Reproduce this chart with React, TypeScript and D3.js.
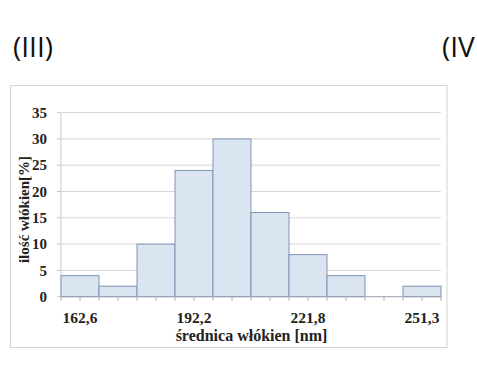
import * as d3 from "d3";

// histogram bins (fibre diameter, nm) and share of fibres (%)
const binLabels = ["162,6", "172,5", "182,3", "192,2", "202,1", "211,9", "221,8", "231,7", "241,5", "251,3"];
const shownLabels = ["162,6", "192,2", "221,8", "251,3"];
const percents = [4, 2, 10, 24, 30, 16, 8, 4, 0, 2];
const yTicks = [0, 5, 10, 15, 20, 25, 30, 35];

const W = 477;
const H = 378;
const margin = { top: 112.6, right: 36, bottom: 81.3, left: 61 };

const serif = "'Liberation Serif', 'Times New Roman', serif";

export default function App() {
  const x = d3
    .scaleBand<string>()
    .domain(binLabels)
    .range([margin.left, W - margin.right])
    .padding(0);

  const y = d3
    .scaleLinear()
    .domain([0, 35])
    .range([H - margin.bottom, margin.top]);

  const bw = x.bandwidth();
  const y0 = y(0);

  // minor ticks at bin edges and bin centres
  const tickXs: number[] = [];
  binLabels.forEach((b) => {
    tickXs.push(x(b)!, x(b)! + bw / 2);
  });
  tickXs.push(x(binLabels[binLabels.length - 1])! + bw);

  return (
    <svg
      width={W}
      height={H}
      style={{ position: "absolute", left: 0, top: 0, background: "#fff" }}
    >
      <text x={13} y={57} fontFamily="'Open Sans', sans-serif" fontSize={28} fill="#111">
        (III)
      </text>
      <text x={442} y={57} fontFamily="'Open Sans', sans-serif" fontSize={28} fill="#111">
        (IV
      </text>

      {/* chart frame */}
      <rect x={10.5} y={85.5} width={436.5} height={262} fill="#fff" stroke="#d4d4d4" />

      {/* gridlines */}
      {yTicks.slice(1).map((t) => (
        <line
          key={t}
          x1={margin.left}
          x2={W - margin.right}
          y1={y(t)}
          y2={y(t)}
          stroke="#d9d9d9"
          strokeWidth={1}
        />
      ))}

      {/* y axis */}
      <line x1={margin.left} x2={margin.left} y1={margin.top} y2={y0} stroke="#c8c8c8" />
      {yTicks.map((t) => (
        <g key={t}>
          <line x1={margin.left - 4} x2={margin.left} y1={y(t)} y2={y(t)} stroke="#c8c8c8" />
          <text
            x={47}
            y={y(t)}
            dy="0.35em"
            textAnchor="end"
            fontFamily={serif}
            fontWeight="bold"
            fontSize={15}
            fill="#222"
          >
            {t}
          </text>
        </g>
      ))}

      {/* bars */}
      {binLabels.map((b, i) =>
        percents[i] > 0 ? (
          <rect
            key={b}
            x={x(b)}
            y={y(percents[i])}
            width={bw}
            height={y0 - y(percents[i])}
            fill="#dbe5f1"
            stroke="#7f93b3"
            strokeWidth={1}
          />
        ) : null
      )}

      {/* x axis */}
      <line x1={margin.left} x2={W - margin.right} y1={y0} y2={y0} stroke="#9aa3b0" />
      {tickXs.map((tx, i) => (
        <line key={i} x1={tx} x2={tx} y1={y0} y2={y0 + 4} stroke="#b0b0b0" />
      ))}
      {shownLabels.map((l) => (
        <text
          key={l}
          x={x(l)! + bw / 2}
          y={323}
          textAnchor="middle"
          fontFamily={serif}
          fontWeight="bold"
          fontSize={15.5}
          fill="#222"
        >
          {l}
        </text>
      ))}

      {/* axis titles */}
      <text
        x={251.5}
        y={341}
        textAnchor="middle"
        fontFamily={serif}
        fontWeight="bold"
        fontSize={16}
        fill="#222"
      >
        średnica włókien [nm]
      </text>
      <text
        transform="translate(29,209.5) rotate(-90)"
        textAnchor="middle"
        fontFamily={serif}
        fontWeight="bold"
        fontSize={15}
        fill="#222"
      >
        ilość włókien[%]
      </text>
    </svg>
  );
}
